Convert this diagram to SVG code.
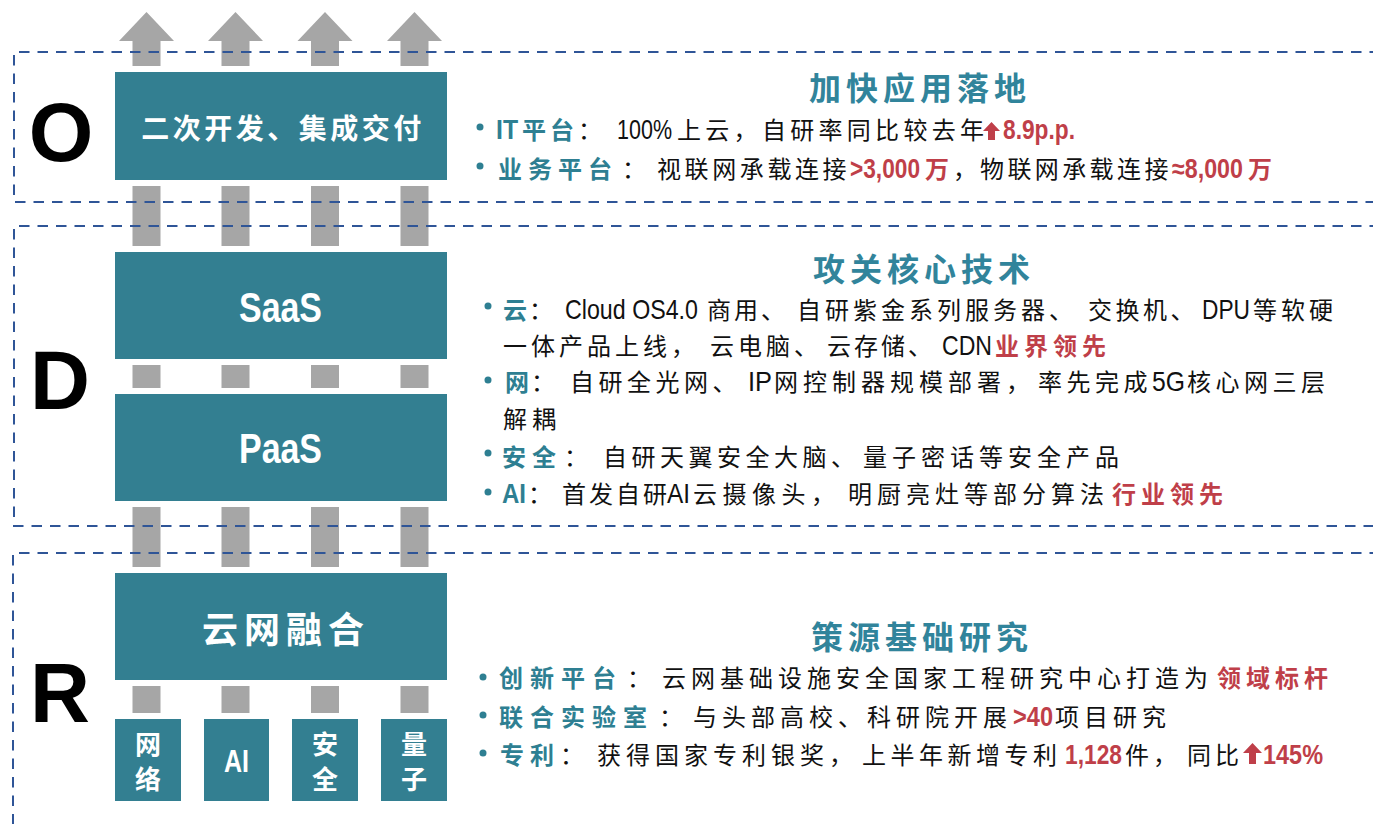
<svg xmlns="http://www.w3.org/2000/svg" width="1373" height="824" viewBox="0 0 1373 824">
<style>
.box{fill:#337F91}
.bar{fill:#A6A6A6}
.frame{fill:none;stroke:#2F5597;stroke-width:2;stroke-dasharray:10.5 8}
.big{font-family:"Liberation Sans",Arial,sans-serif;font-weight:bold;font-size:83px;fill:#000;text-anchor:middle}
.bt{font-family:"Noto Sans CJK SC",sans-serif;fill:#fff;font-weight:bold;text-anchor:middle}
.bl{font-family:"Liberation Sans",Arial,sans-serif;fill:#fff;font-weight:bold;text-anchor:middle}
.title{font-family:"Noto Sans CJK SC",sans-serif;font-size:32px;font-weight:bold;fill:#31849B;text-anchor:middle;letter-spacing:5px}
.c{font-family:"Noto Sans CJK SC",sans-serif;font-size:24px;fill:#111}
.l{font-family:"Liberation Sans",Arial,sans-serif;font-size:27px;fill:#111}
.ld{font-size:28px}
.t{fill:#2E7F92;font-weight:bold}
.r{fill:#BF3F49;font-weight:bold}
.dot{fill:#2E7F92}
.up{fill:#BF3F49}
</style>

<g id="connectors">
  <g class="bar">
    <polygon points="119,41 146.5,12 174,41 160.5,41 160.5,66 132.5,66 132.5,41"/>
    <polygon points="208,41 235.5,12 263,41 249.5,41 249.5,66 221.5,66 221.5,41"/>
    <polygon points="297.5,41 325,12 352.5,41 339,41 339,66 311,66 311,41"/>
    <polygon points="387,41 414.5,12 442,41 428.5,41 428.5,66 400.5,66 400.5,41"/>
    <rect x="132.5" y="186" width="28" height="60"/>
    <rect x="221.5" y="186" width="28" height="60"/>
    <rect x="311" y="186" width="28" height="60"/>
    <rect x="400.5" y="186" width="28" height="60"/>
    <rect x="132.5" y="365" width="28" height="23"/>
    <rect x="221.5" y="365" width="28" height="23"/>
    <rect x="311" y="365" width="28" height="23"/>
    <rect x="400.5" y="365" width="28" height="23"/>
    <rect x="132.5" y="507" width="28" height="60"/>
    <rect x="221.5" y="507" width="28" height="60"/>
    <rect x="311" y="507" width="28" height="60"/>
    <rect x="400.5" y="507" width="28" height="60"/>
    <rect x="132.5" y="686" width="28" height="27"/>
    <rect x="221.5" y="686" width="28" height="27"/>
    <rect x="311" y="686" width="28" height="27"/>
    <rect x="400.5" y="686" width="28" height="27"/>
  </g>
</g>

<g id="frames">
  <path class="frame" d="M1380,52 H14 V202 H1380"/>
  <path class="frame" d="M1380,226 H14 V526 H1380"/>
  <path class="frame" d="M1380,553 H13 V830"/>
</g>

<g id="layer-letters">
  <text class="big" x="61" y="161">O</text>
  <text class="big" x="60" y="409">D</text>
  <text class="big" x="60" y="722">R</text>
</g>

<g id="node-delivery">
  <rect class="box" x="115" y="72" width="332" height="108"/>
  <text class="bt" x="283" y="139" font-size="28" letter-spacing="3.5">二次开发、集成交付</text>
</g>
<g id="node-saas">
  <rect class="box" x="115" y="252" width="332" height="107"/>
  <text class="bl" x="280.5" y="322" font-size="42" textLength="83" lengthAdjust="spacingAndGlyphs">SaaS</text>
</g>
<g id="node-paas">
  <rect class="box" x="115" y="394" width="332" height="107"/>
  <text class="bl" x="280.5" y="463" font-size="42" textLength="83" lengthAdjust="spacingAndGlyphs">PaaS</text>
</g>
<g id="node-cloudnet">
  <rect class="box" x="115" y="573" width="332" height="107"/>
  <text class="bt" x="286" y="643" font-size="36" letter-spacing="6">云网融合</text>
</g>
<g id="node-network">
  <rect class="box" x="115" y="719" width="66" height="82"/>
  <text class="bt" x="148" y="754" font-size="26">网</text>
  <text class="bt" x="148" y="789" font-size="26">络</text>
</g>
<g id="node-ai">
  <rect class="box" x="204" y="719" width="65" height="82"/>
  <text class="bl" x="236.5" y="772" font-size="31" textLength="25" lengthAdjust="spacingAndGlyphs">AI</text>
</g>
<g id="node-security">
  <rect class="box" x="292" y="719" width="66" height="82"/>
  <text class="bt" x="325" y="754" font-size="26">安</text>
  <text class="bt" x="325" y="789" font-size="26">全</text>
</g>
<g id="node-quantum">
  <rect class="box" x="381" y="719" width="66" height="82"/>
  <text class="bt" x="414" y="754" font-size="26">量</text>
  <text class="bt" x="414" y="789" font-size="26">子</text>
</g>

<g id="panel-O">
  <text class="title" x="920" y="100">加快应用落地</text>
  <circle class="dot" cx="480" cy="127" r="3.5"/>
  <text class="l t" x="496" y="139" textLength="22" lengthAdjust="spacingAndGlyphs">IT</text>
  <text class="c" y="139"><tspan class="t" x="522" letter-spacing="4">平台</tspan><tspan x="578">：</tspan></text>
  <text class="l" x="617" y="139" textLength="55" lengthAdjust="spacingAndGlyphs">100%</text>
  <text class="c" x="677" y="139" letter-spacing="4.3">上云，自研率同比较去年</text>
  <polygon class="up" points="991.5,122 1000,131 995,131 995,140 988,140 988,131 983,131"/>
  <text class="l r" x="1003" y="139" textLength="72" lengthAdjust="spacingAndGlyphs">8.9p.p.</text>

  <circle class="dot" cx="480" cy="166" r="3.5"/>
  <text class="c" y="178"><tspan class="t" x="498" letter-spacing="6">业务平台</tspan><tspan x="622">：</tspan></text>
  <text class="c" x="657" y="178" letter-spacing="3.6">视联网承载连接</text>
  <text class="l r" x="850" y="178" textLength="70" lengthAdjust="spacingAndGlyphs">&gt;3,000</text>
  <text class="c r" x="925" y="178">万</text>
  <text class="c" x="953" y="178">，</text>
  <text class="c" x="980" y="178" letter-spacing="3.4">物联网承载连接</text>
  <text class="l r" x="1172" y="178" textLength="71" lengthAdjust="spacingAndGlyphs">≈8,000</text>
  <text class="c r" x="1248" y="178">万</text>
</g>

<g id="panel-D">
  <text class="title" x="924" y="281">攻关核心技术</text>
  <circle class="dot" cx="488" cy="306" r="3.5"/>
  <text class="c" y="319"><tspan class="t" x="503">云</tspan><tspan x="529">：</tspan></text>
  <text class="l ld" x="565" y="319" textLength="133" lengthAdjust="spacingAndGlyphs">Cloud OS4.0</text>
  <text class="c" x="707" y="319" letter-spacing="3">商用、</text>
  <text class="c" x="797" y="319" letter-spacing="4">自研紫金系列服务器、</text>
  <text class="c" x="1088" y="319" letter-spacing="3.5">交换机、</text>
  <text class="l ld" x="1202" y="319" textLength="48" lengthAdjust="spacingAndGlyphs">DPU</text>
  <text class="c" x="1253" y="319" letter-spacing="4">等软硬</text>

  <text class="c" x="503" y="355" letter-spacing="4">一体产品上线，</text>
  <text class="c" x="710" y="355" letter-spacing="4">云电脑、</text>
  <text class="c" x="827" y="355" letter-spacing="3">云存储、</text>
  <text class="l ld" x="942" y="355" textLength="50" lengthAdjust="spacingAndGlyphs">CDN</text>
  <text class="c r" x="995" y="355" letter-spacing="5">业界领先</text>

  <circle class="dot" cx="488" cy="380" r="3.5"/>
  <text class="c" y="391"><tspan class="t" x="505">网</tspan><tspan x="531">：</tspan></text>
  <text class="c" x="570" y="391" letter-spacing="4.5">自研全光网、</text>
  <text class="l ld" x="748" y="391" textLength="24" lengthAdjust="spacingAndGlyphs">IP</text>
  <text class="c" x="774" y="391" letter-spacing="5">网控制器规模部署，</text>
  <text class="c" x="1038" y="391" letter-spacing="4.5">率先完成</text>
  <text class="l ld" x="1152" y="391" textLength="33" lengthAdjust="spacingAndGlyphs">5G</text>
  <text class="c" x="1187" y="391" letter-spacing="4.5">核心网三层</text>
  <text class="c" x="503" y="428" letter-spacing="5">解耦</text>

  <circle class="dot" cx="488" cy="453" r="3.5"/>
  <text class="c" y="466"><tspan class="t" x="502" letter-spacing="6">安全</tspan><tspan x="564">：</tspan></text>
  <text class="c" x="603" y="466" letter-spacing="4.5">自研天翼安全大脑、</text>
  <text class="c" x="863" y="466" letter-spacing="5">量子密话等安全产品</text>

  <circle class="dot" cx="488" cy="492" r="3.5"/>
  <text class="l ld t" x="502" y="503" textLength="24" lengthAdjust="spacingAndGlyphs">AI</text>
  <text class="c" x="528" y="503">：</text>
  <text class="c" x="562" y="503" letter-spacing="3">首发自研</text>
  <text class="l ld" x="667" y="503" textLength="23" lengthAdjust="spacingAndGlyphs">AI</text>
  <text class="c" x="693" y="503" letter-spacing="5.5">云摄像头，</text>
  <text class="c" x="848" y="503" letter-spacing="5">明厨亮灶等部分算法</text>
  <text class="c r" x="1112" y="503" letter-spacing="5">行业领先</text>
</g>

<g id="panel-R">
  <text class="title" x="922" y="649">策源基础研究</text>
  <circle class="dot" cx="483" cy="677" r="3.5"/>
  <text class="c" y="687"><tspan class="t" x="499" letter-spacing="7">创新平台</tspan><tspan x="627">：</tspan></text>
  <text class="c" x="662" y="687" letter-spacing="5">云网基础设施安全国家工程研究中心打造为</text>
  <text class="c r" x="1217" y="687" letter-spacing="5">领域标杆</text>

  <circle class="dot" cx="483" cy="715" r="3.5"/>
  <text class="c" y="726"><tspan class="t" x="499" letter-spacing="7">联合实验室</tspan><tspan x="659">：</tspan></text>
  <text class="c" x="693" y="726" letter-spacing="5">与头部高校、</text>
  <text class="c" x="867" y="726" letter-spacing="5">科研院开展</text>
  <text class="l r" x="1013" y="726" textLength="40" lengthAdjust="spacingAndGlyphs">&gt;40</text>
  <text class="c" x="1055" y="726" letter-spacing="5">项目研究</text>

  <circle class="dot" cx="483" cy="753" r="3.5"/>
  <text class="c" y="764"><tspan class="t" x="500" letter-spacing="6">专利</tspan><tspan x="560">：</tspan></text>
  <text class="c" x="597" y="764" letter-spacing="5">获得国家专利银奖，</text>
  <text class="c" x="862" y="764" letter-spacing="4.5">上半年新增专利</text>
  <text class="l r" x="1065" y="764" textLength="57" lengthAdjust="spacingAndGlyphs">1,128</text>
  <text class="c" x="1125" y="764" letter-spacing="4">件，</text>
  <text class="c" x="1187" y="764" letter-spacing="4">同比</text>
  <polygon class="up" points="1252.5,743 1262,753 1256,753 1256,764 1249,764 1249,753 1243,753"/>
  <text class="l r" x="1263" y="764" textLength="60" lengthAdjust="spacingAndGlyphs">145%</text>
</g>
</svg>
